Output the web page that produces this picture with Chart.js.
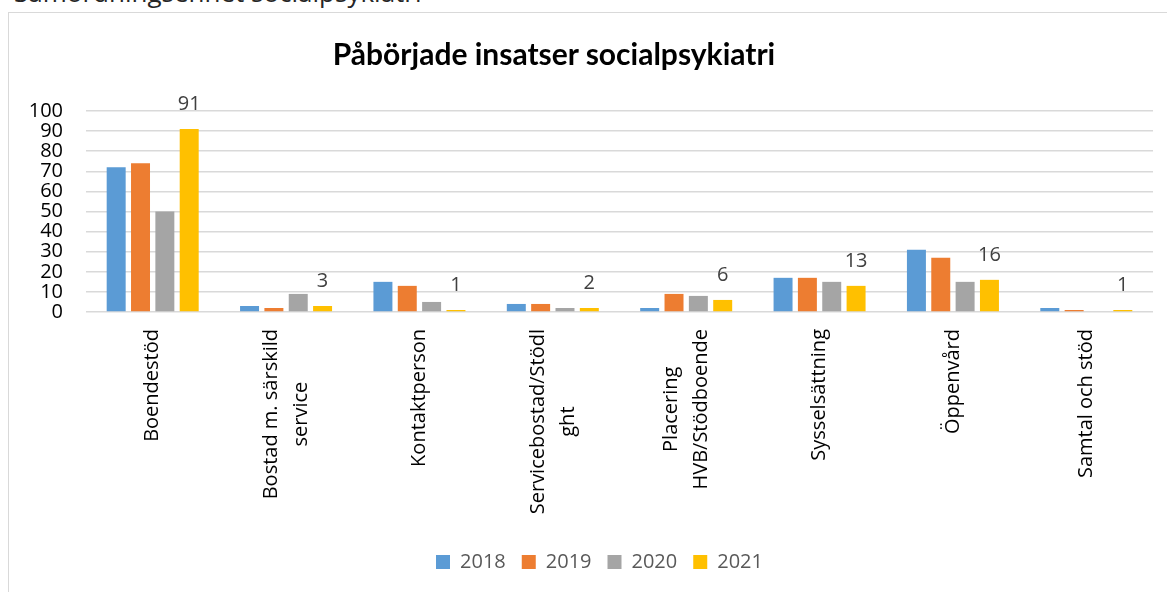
<!DOCTYPE html>
<html lang="sv">
<head>
<meta charset="utf-8">
<title>Påbörjade insatser socialpsykiatri</title>
<script src="https://cdn.jsdelivr.net/npm/chart.js@4"></script>
<style>
  html, body { margin: 0; padding: 0; background: #fff; overflow: hidden; }
  body { width: 1167px; height: 592px; position: relative; }
  .heading {
    position: absolute; left: 14px; top: -21px;
    font: 26px/26px "Open Sans", sans-serif; color: #262626; white-space: nowrap;
  }
  .frame {
    position: absolute; left: 8px; top: 12px; width: 1180px; height: 600px;
    border-left: 1px solid #d9d9d9; border-top: 1px solid #d9d9d9;
  }
  .title {
    position: absolute; left: 0; width: 1108px; top: 38px; text-align: center;
    font: bold 30px/30px Lato, sans-serif; color: #000; white-space: nowrap;
  }
  canvas { position: absolute; left: 1px; top: 0; }
</style>
</head>
<body>
<div class="heading">Samordningsenhet socialpsykiatri</div>
<div class="frame">
  <canvas id="chart" width="1179" height="580"></canvas>
</div>
<div class="title">Påbörjade insatser socialpsykiatri</div>

<script>
  // kategorier (radbrutna som i originalet)
  const categories = [
    "Boendestöd",
    ["Bostad m. särskild", "service"],
    "Kontaktperson",
    ["Servicebostad/Stödl", "ght"],
    ["Placering", "HVB/Stödboende"],
    "Sysselsättning",
    "Öppenvård",
    "Samtal och stöd"
  ];
  const years = ["2018", "2019", "2020", "2021"];

  const values2018 = [72, 3, 15, 4, 2, 17, 31, 2];
  const values2019 = [74, 2, 13, 4, 9, 17, 27, 1];
  const values2020 = [50, 9, 5, 2, 8, 15, 15, 0];
  const values2021 = [91, 3, 1, 2, 6, 13, 16, 1];

  const yTicks = [0, 10, 20, 30, 40, 50, 60, 70, 80, 90, 100];

  const colors = ["#5B9BD5", "#ED7D31", "#A5A5A5", "#FFC000"];
  const font = "'Open Sans', sans-serif";

  // etiketter bara for 2021, som i Excel-diagrammet
  const valueLabels = {
    id: "valueLabels",
    afterDatasetsDraw(chart) {
      const ctx = chart.ctx;
      const meta = chart.getDatasetMeta(3);
      ctx.save();
      ctx.font = "20px " + font;
      ctx.fillStyle = "#404040";
      ctx.textAlign = "center";
      ctx.textBaseline = "middle";
      meta.data.forEach((bar, i) => {
        ctx.fillText(String(values2021[i]), bar.x, bar.y - 25);
      });
      ctx.restore();
    }
  };

  // roterade kategorietiketter, centrerade rader
  const rotatedLabels = {
    id: "rotatedLabels",
    afterDraw(chart) {
      const ctx = chart.ctx;
      const xScale = chart.scales.x;
      const top = chart.chartArea.bottom + 17;
      const lineH = 30;
      ctx.save();
      ctx.font = "20px " + font;
      ctx.fillStyle = "#000";
      ctx.textAlign = "center";
      ctx.textBaseline = "middle";
      categories.forEach((label, i) => {
        const lines = Array.isArray(label) ? label : [label];
        const maxW = Math.max(...lines.map(l => ctx.measureText(l).width));
        const x = xScale.getPixelForValue(i);
        ctx.save();
        ctx.translate(x, top);
        ctx.rotate(-Math.PI / 2);
        lines.forEach((line, j) => {
          const v = (j - (lines.length - 1) / 2) * lineH;
          ctx.fillText(line, -maxW / 2, v);
        });
        ctx.restore();
      });
      ctx.restore();
    }
  };

  const ctx = document.getElementById("chart").getContext("2d");

  new Chart(ctx, {
    type: "bar",
    data: {
      labels: categories,
      datasets: [
        { label: years[0], data: values2018, backgroundColor: colors[0] },
        { label: years[1], data: values2019, backgroundColor: colors[1] },
        { label: years[2], data: values2020, backgroundColor: colors[2] },
        { label: years[3], data: values2021, backgroundColor: colors[3] }
      ]
    },
    options: {
      responsive: false,
      animation: false,
      datasets: {
        bar: { categoryPercentage: 0.73, barPercentage: 0.78 }
      },
      layout: { padding: { top: 98, left: 0, right: 0, bottom: 11 } },
      plugins: {
        title: { display: false },
        tooltip: { enabled: false },
        legend: {
          position: "bottom",
          labels: {
            boxWidth: 14,
            boxHeight: 14,
            padding: 16,
            color: "#595959",
            font: { family: font, size: 20 }
          }
        }
      },
      scales: {
        x: {
          grid: { display: false },
          border: { display: false },
          ticks: { display: false },
          afterFit(scale) { scale.height = 224; }
        },
        y: {
          min: 0,
          max: 100,
          afterBuildTicks(scale) { scale.ticks = yTicks.map(v => ({ value: v })); },
          grid: { color: "#d9d9d9", lineWidth: 1.5, drawTicks: false },
          border: { display: false },
          ticks: {
            autoSkip: false,
            padding: 23,
            color: "#000",
            font: { family: font, size: 20 }
          },
          afterFit(scale) { scale.width = 76; }
        },
        // tom axel for hogermarginalen
        yRight: {
          position: "right",
          grid: { display: false },
          border: { display: false },
          ticks: { display: false },
          afterFit(scale) { scale.width = 36; }
        }
      }
    },
    plugins: [valueLabels, rotatedLabels]
  });
</script>
</body>
</html>
